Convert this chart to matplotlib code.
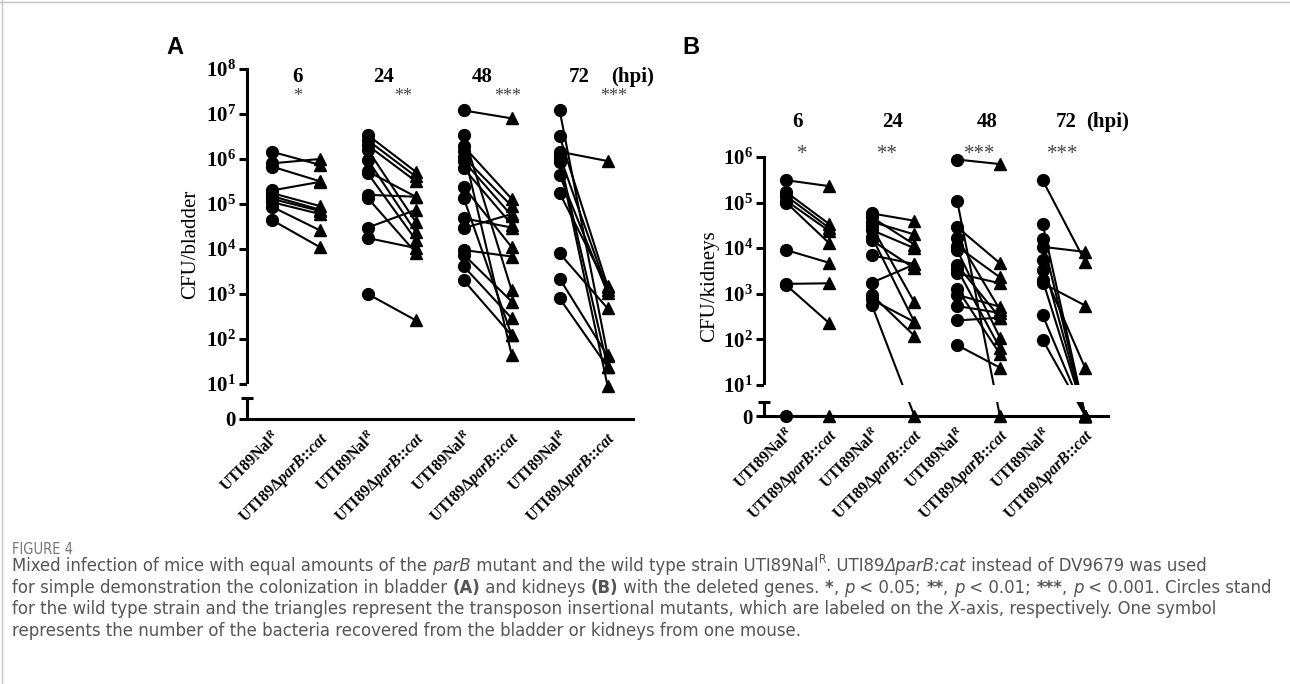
"""Figure 4: paired CFU counts (wild type vs parB mutant) in bladder and kidneys."""

import matplotlib
matplotlib.use('Agg')
import matplotlib.pyplot as plt
from matplotlib import font_manager
from matplotlib.lines import Line2D
from matplotlib.ticker import FixedLocator, FixedFormatter, NullLocator

W, H = 1290, 684

HPI = ['6', '24', '48', '72']
STARS = ['*', '**', '***', '***']
X_LABELS = [r'UTI89Na$\mathrm{l}^{R}$', r'UTI89$\Delta$$parB$::$cat$'] * 4

# bladder (A): CFU per mouse, wild type paired with mutant
BLADDER_WT_6 = [1.45e6, 8.0e5, 6.8e5, 2.0e5, 1.75e5, 1.5e5, 1.3e5, 1.1e5, 8.7e4, 4.4e4]
BLADDER_MUT_6 = [7.4e5, 1.0e6, 3.2e5, 3.1e5, 9.0e4, 7.5e4, 7.0e4, 6.0e4, 2.6e4, 1.1e4]
BLADDER_WT_24 = [3.4e6, 2.6e6, 2.0e6, 1.6e6, 9.5e5, 5.3e5, 4.8e5, 1.6e5, 1.35e5, 3.0e4, 1.75e4, 1.0e3]
BLADDER_MUT_24 = [5.2e5, 4.1e5, 3.2e5, 4.0e4, 2.4e4, 1.45e5, 1.6e4, 1.45e5, 8.3e3, 7.4e4, 1.05e4, 2.6e2]
BLADDER_WT_48 = [1.2e7, 3.4e6, 1.9e6, 1.5e6, 1.1e6, 9.0e5, 6.2e5, 2.4e5, 1.35e5, 4.8e4, 2.9e4,
                 9.5e3, 7.5e3, 4.1e3, 2.0e3]
BLADDER_MUT_48 = [8.0e6, 1.2e3, 1.3e5, 4.4e1, 9.0e4, 5.5e4, 3.5e4, 1.1e4, 1.2e2, 3.0e4, 6.0e4,
                  6.8e3, 6.8e2, 2.9e2, 1.2e2]
BLADDER_WT_72 = [1.2e7, 3.2e6, 1.45e6, 1.2e6, 1.0e6, 8.7e5, 4.4e5, 1.75e5, 8.0e3, 2.2e3, 8.0e2]
BLADDER_MUT_72 = [4.4e1, 1.5e3, 9.0e5, 1.2e3, 2.4e1, 9.5, 1.05e3, 1.4e3, 4.8e2, 4.2e1, 2.4e1]

# kidneys (B)
KIDNEY_WT_6 = [3.1e5, 1.7e5, 1.4e5, 1.1e5, 1.0e5, 9.1e3, 1.65e3, 1.55e3, 0]
KIDNEY_MUT_6 = [2.3e5, 3.4e4, 2.8e4, 2.4e4, 1.3e4, 4.8e3, 1.7e3, 2.3e2, 0]
KIDNEY_WT_24 = [5.8e4, 4.8e4, 3.8e4, 3.0e4, 2.5e4, 1.8e4, 1.5e4, 7.0e3, 1.75e3, 9.5e2, 7.5e2, 5.8e2]
KIDNEY_MUT_24 = [4.0e4, 1.2e4, 2.0e4, 6.5e2, 1.0e4, 2.4e2, 3.6e3, 4.5e3, 4.4e3, 1.2e2, 2.4e2, 0]
KIDNEY_WT_48 = [8.8e5, 1.1e5, 2.9e4, 1.7e4, 1.1e4, 9.0e3, 4.3e3, 3.5e3, 2.8e3, 1.3e3, 9.5e2,
                5.4e2, 2.6e2, 7.5e1]
KIDNEY_MUT_48 = [7.0e5, 0, 4.7e3, 4.5e2, 2.3e3, 1.1e2, 3.0e2, 6.5e1, 1.7e3, 4.8e1, 5.2e2,
                 3.8e2, 3.0e2, 2.4e1]
KIDNEY_WT_72 = [3.1e5, 3.4e4, 1.6e4, 1.07e4, 5.5e3, 3.3e3, 2.0e3, 1.7e3, 3.4e2, 9.8e1]
KIDNEY_MUT_72 = [5.0e3, 0, 0, 8.3e3, 0, 2.3e1, 0, 5.5e2, 0, 0]

CAPTION = [
    [("Mixed infection of mice with equal amounts of the ", ''), ("parB", 'i'),
     (" mutant and the wild type strain UTI89Nal", ''), ("R", 'sup'), (". UTI89", ''),
     ("\u0394parB:cat", 'i'), (" instead of DV9679 was used", '')],
    [("for simple demonstration the colonization in bladder ", ''), ("(A)", 'b'),
     (" and kidneys ", ''), ("(B)", 'b'), (" with the deleted genes. ", ''), ("*", 'b'),
     (", ", ''), ("p", 'i'), (" < 0.05; ", ''), ("**", 'b'), (", ", ''), ("p", 'i'),
     (" < 0.01; ", ''), ("***", 'b'), (", ", ''), ("p", 'i'), (" < 0.001. Circles stand", '')],
    [("for the wild type strain and the triangles represent the transposon insertional "
      "mutants, which are labeled on the ", ''), ("X", 'i'),
     ("-axis, respectively. One symbol", '')],
    [("represents the number of the bacteria recovered from the bladder or kidneys from one mouse.", '')],
]

plt.rcParams['font.family'] = 'Liberation Serif'
plt.rcParams['font.weight'] = 'bold'
plt.rcParams['mathtext.fontset'] = 'custom'
plt.rcParams['mathtext.rm'] = 'Liberation Serif:bold'
plt.rcParams['mathtext.bf'] = 'Liberation Serif:bold'
plt.rcParams['mathtext.it'] = 'Liberation Serif:italic:bold'

# condensed sans for the caption, if the condensed DejaVu files are there
_cond = font_manager.findfont(font_manager.FontProperties(family='DejaVu Sans', stretch='condensed'))
if 'Condensed' in _cond:
    CAP_FONT = dict(family='DejaVu Sans', stretch='condensed')
else:
    CAP_FONT = dict(family='Liberation Sans')
CAP_COLOR = '#555555'


def draw_panel(ax, wt_groups, mut_groups, top_exp, linscale, brk, ylabel, ylabel_x,
               head_x, head_y, star_x, star_y, star_size):
    ax.set_yscale('symlog', linthresh=10, linscale=linscale)
    for g, (wt, mut) in enumerate(zip(wt_groups, mut_groups)):
        xw, xm = 2 * g + 1, 2 * g + 2
        for a, b in zip(wt, mut):
            ax.plot([xw, xm], [a, b], color='k', lw=1.5, zorder=2)
        ax.plot([xw] * len(wt), wt, 'o', ms=8.5, color='k', zorder=4, clip_on=False)
        ax.plot([xm] * len(mut), mut, '^', ms=8.5, color='k', zorder=4, clip_on=False)
    # axis break between 0 and 10^1
    ax.axhspan(brk, 10, color='white', lw=0, zorder=3)

    ax.set_xlim(0.48, 8.53)
    ax.set_ylim(0, 10 ** top_exp)
    for s in ('top', 'right'):
        ax.spines[s].set_visible(False)
    ax.spines['left'].set_bounds(10, 10 ** top_exp)
    ax.spines['left'].set_linewidth(2.2)
    ax.spines['bottom'].set_linewidth(2.2)
    yt = ax.get_yaxis_transform()
    ax.plot([0, 0], [0, brk], color='k', lw=2.2, transform=yt, clip_on=False,
            solid_capstyle='butt', zorder=5)
    ax.plot([0], [brk], marker='_', ms=8, mew=2.2, color='k', transform=yt,
            clip_on=False, zorder=5)

    ticks = [0] + [10 ** k for k in range(1, top_exp + 1)]
    ax.yaxis.set_major_locator(FixedLocator(ticks))
    ax.yaxis.set_major_formatter(FixedFormatter(['0'] + [rf'$10^{{{k}}}$' for k in range(1, top_exp + 1)]))
    ax.yaxis.set_minor_locator(NullLocator())
    ax.tick_params(axis='y', length=6, width=2.2, labelsize=15, pad=2)
    ax.set_xticks(range(1, 9))
    ax.set_xticklabels(X_LABELS, rotation=45, ha='right', va='top',
                       rotation_mode='anchor', fontsize=11.5)
    ax.tick_params(axis='x', length=0, pad=7)
    ax.set_ylabel(ylabel, fontsize=15)
    ax.yaxis.set_label_coords(ylabel_x, 0.5)

    for x, s in zip(head_x, HPI):
        ax.text(x, head_y, s, ha='center', va='center', fontsize=15)
    ax.text(8.52, head_y, '(hpi)', ha='center', va='center', fontsize=15)
    for x, s in zip(star_x, STARS):
        ax.text(x, star_y, s, ha='center', va='center', fontsize=star_size,
                color='#444444', weight='normal')


def cap_props(kind, size):
    p = dict(fontsize=size, color=CAP_COLOR, weight='normal', style='normal', **CAP_FONT)
    if kind == 'i':
        p['style'] = 'italic'
    elif kind == 'b':
        p['weight'] = 'bold'
    elif kind == 'sup':
        p['fontsize'] = size * 0.65
    return p


def run_width(fig, r, s, p):
    t1 = fig.text(0, 0, s + '|', **p)
    w1 = t1.get_window_extent(r).width
    t1.remove()
    t2 = fig.text(0, 0, '|', **p)
    w2 = t2.get_window_extent(r).width
    t2.remove()
    return w1 - w2


def draw_line(fig, r, x_px, y_px, runs, size):
    x = x_px
    for s, kind in runs:
        p = cap_props(kind, size)
        dy = size * 0.45 * 100 / 72 if kind == 'sup' else 0
        fig.text(x / W, 1 - (y_px - dy) / H, s, va='baseline', ha='left', **p)
        x += run_width(fig, r, s, p)


fig = plt.figure(figsize=(W / 100, H / 100), dpi=100)
fig.patch.set_facecolor('white')

ax_a = fig.add_axes([247 / W, 1 - 419 / H, 386 / W, 350 / H])
draw_panel(ax_a,
           [BLADDER_WT_6, BLADDER_WT_24, BLADDER_WT_48, BLADDER_WT_72],
           [BLADDER_MUT_6, BLADDER_MUT_24, BLADDER_MUT_48, BLADDER_MUT_72],
           8, 0.70, 6.0, 'CFU/bladder', -0.122,
           [1.54, 3.33, 5.38, 7.40], 10 ** 7.82,
           [1.54, 3.73, 5.92, 8.12], 10 ** 7.38, 13)

ax_b = fig.add_axes([764 / W, 1 - 416 / H, 344 / W, 259 / H])
draw_panel(ax_b,
           [KIDNEY_WT_6, KIDNEY_WT_24, KIDNEY_WT_48, KIDNEY_WT_72],
           [KIDNEY_MUT_6, KIDNEY_MUT_24, KIDNEY_MUT_48, KIDNEY_MUT_72],
           6, 0.612, 4.5, 'CFU/kidneys', -0.13,
           [1.26, 3.49, 5.70, 7.56], 10 ** 6.77,
           [1.37, 3.37, 5.54, 7.47], 10 ** 6.06, 15)

fig.text(175 / W, 1 - 48 / H, 'A', family='Liberation Sans', weight='bold', fontsize=17,
         ha='center', va='center')
fig.text(691 / W, 1 - 48 / H, 'B', family='Liberation Sans', weight='bold', fontsize=17,
         ha='center', va='center')

# caption
r = fig.canvas.get_renderer()
fig.text(12 / W, 1 - 554 / H, 'FIGURE 4', fontsize=10.5, color='#777777', weight='normal',
         va='baseline', **CAP_FONT)
base = 10
w2 = sum(run_width(fig, r, s, cap_props(k, base)) for s, k in CAPTION[1])
cap_size = base * 1262 / w2
for runs, y in zip(CAPTION, [571, 593, 614, 636]):
    draw_line(fig, r, 12, y, runs, cap_size)

fig.add_artist(Line2D([0, 1], [1 - 1.5 / H] * 2, transform=fig.transFigure, color='#c4c4c4', lw=1))
fig.add_artist(Line2D([1.5 / W] * 2, [0, 1], transform=fig.transFigure, color='#c4c4c4', lw=1))

fig.savefig('out.png', dpi=100)
